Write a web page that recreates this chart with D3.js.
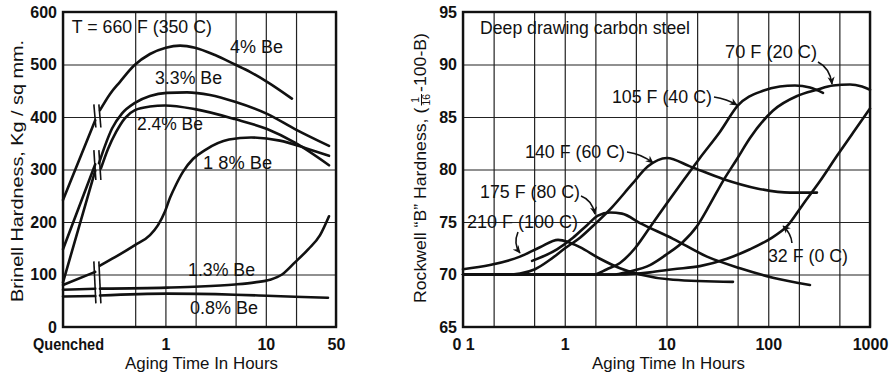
<!DOCTYPE html>
<html><head><meta charset="utf-8">
<script src="https://cdn.jsdelivr.net/npm/d3@7"></script>
<style>
body{margin:0;background:#fff}
svg text{font-family:"Liberation Sans",Arial,sans-serif;fill:#111}
</style>
</head><body>
<svg id="c" width="896" height="374"></svg>
<script>
// ---------------- DATA ----------------
// Left panel: Brinell hardness of Be-Cu alloys aged at 660 F
const QUENCHED = 0.0955;                 // position used for the "Quenched" state on the time axis
const quenchHours = [QUENCHED, 0.2];
const leftYTicks = [0,100,200,300,400,500,600];
const leftXGrid = [0.5,2,5,20];
const leftXTickVals = [QUENCHED,1,10,50];
const leftXTickLabels = ["Quenched","1","10","50"];

const be4Quench  = [242,394];
const be4Hours   = [0.223,0.281,0.353,0.487,0.702,1.01,1.40,1.97,3.12,4.93,6.96,10.3,18.2];
const be4Values  = [413,444,467,498,520,532,536,532,518,500,486,467,435];

const be33Quench = [148,310];
const be33Hours  = [0.218,0.250,0.294,0.370,0.497,0.702,1.034,1.64,2.78,4.93,10.3,19.5,42.6];
const be33Values = [312,345,378,407,427,440,446,447,442,429,406,377,345];

const be24Quench = [85,298];
const be24Hours  = [0.228,0.268,0.322,0.396,0.497,0.702,0.990,1.97,4.93,10.3,19.5,42.6];
const be24Values = [302,339,371,398,413,420,422,415,396,377,351,308];

const be18Quench = [80,105];
const be18Hours  = [0.223,0.315,0.497,0.702,0.844,0.990,1.111,1.275,1.50,1.88,2.48,4.30,7.12,13.8,24.6,42.6];
const be18Values = [117,133,156,175,194,220,246,271,296,320,337,357,361,355,341,326];

const be13Quench = [71,73];
const be13Hours  = [0.223,1.034,2.21,4.93,7.80,11.0,14.5,19.5,26.4,34.7,42.6];
const be13Values = [73,75,77,81,85,90,100,123,148,175,211];

const be08Quench = [58,59];
const be08Hours  = [0.223,1.034,4.93,10.3,19.5,41.6];
const be08Values = [60,63.5,61.5,59.6,57.7,55.8];

const leftLabels      = ["T = 660 F (350 C)","4% Be","3.3% Be","2.4% Be","1 8% Be","1.3% Be","0.8% Be"];
const leftLabelHours  = [0.117,4.40,0.788,0.521,2.37,1.68,1.76];
const leftLabelValues = [560,522,463,375,301,97,25];
const breakHours = 0.21;
const breakRanges = [[380,424],[280,337],[45,125]];

// Right panel: Rockwell B hardness of deep drawing carbon steel
const rightYTicks = [65,70,75,80,85,90,95];
const rightXGrid = [0.2,0.5,2,5,20,50,200,500];
const rightXTickVals = [0.1,1,10,100,1000];
const rightXTickLabels = ["0 1","1","10","100","1000"];

const t210Hours = [0.1,0.184,0.363,0.571,0.859,1.08,1.41,2.22,3.49,5.49,11.6,45];
const t210Values = [70.5,70.9,71.7,72.6,73.3,73.1,72.6,71.5,70.6,70.0,69.5,69.3];
const t175Hours = [0.477,0.839,1.205,1.654,2.12,2.78,3.65,5.49,11.6,25.0,52.8,111,257];
const t175Values = [71.3,72.4,73.5,74.7,75.6,75.9,75.8,74.9,73.4,71.7,70.6,69.7,69.0];
const t140Hours = [0.1,0.259,0.363,0.510,0.716,1.006,1.412,1.98,2.91,4.58,6.58,10.1,17.0,35.9,77.5,164,301];
const t140Values = [70,70,70.1,70.5,71.4,72.5,73.5,74.8,76.4,78.6,80.3,81.1,80.3,79.1,78.2,77.8,77.8];
const t105Hours = [0.1,1.94,2.60,3.49,4.90,6.88,10.3,14.5,21.3,33.6,50.4,88.8,130,183,257,345];
const t105Values = [70,70,70.5,71.1,72.5,74.5,76.9,78.9,81.1,83.6,86.1,87.5,87.9,88.0,87.8,87.3];
const t70Hours = [0.1,2.91,4.38,6.88,10.3,14.5,19.9,26.8,35.9,49.3,66.2,111,192,301,433,636,834,1000];
const t70Values = [70,70,70.3,70.9,72.0,73.1,74.6,76.7,78.9,81.0,83.0,85.6,87.0,87.6,88.0,88.1,87.9,87.6];
const t32Hours = [0.1,3.49,6.88,11.6,21.3,39.3,66.2,104,153,220,323,474,681,1000];
const t32Values = [70,70,70.2,70.5,70.8,71.5,72.4,73.4,74.6,76.7,78.9,81.3,83.5,85.8];

const rightLabels      = ["Deep drawing carbon steel","70 F (20 C)","105 F (40 C)","140 F (60 C)","175 F (80 C)","210 F (100 C)","32 F (0 C)"];
const rightLabelHours  = [0.147,37.6,2.91,0.407,0.147,0.1095,99.4];
const rightLabelValues = [92.9,90.6,86.3,81.1,77.3,74.4,71.2];
// arrows: [start, control, end] as [hours, value]
const rightArrows = [
  [[308,90.24],[404,89.67],[423,88.14]],
  [[29.3,86.9],[39.3,86.7],[49.3,86.14]],
  [[4.09,81.67],[5.74,81.48],[7.37,80.62]],
  [[1.444,77.48],[1.853,77.1],[1.983,75.76]],
  [[0.347,74.05],[0.31,72.9],[0.363,72.05]],
  [[171,73.0],[168,73.9],[140,74.62]]
];

// ---------------- DRAWING ----------------
const svg = d3.select("#c");
const xL = d3.scaleLog().domain([QUENCHED,50]).range([63,336]);
const yL = d3.scaleLinear().domain([0,600]).range([327,12]);
const xR = d3.scaleLog().domain([0.1,1000]).range([463,870]);
const yR = d3.scaleLinear().domain([65,95]).range([327,12]);

svg.append("defs").append("marker").attr("id","ah").attr("viewBox","0 0 10 10")
  .attr("refX",9).attr("refY",5).attr("markerWidth",8).attr("markerHeight",8)
  .attr("markerUnits","userSpaceOnUse").attr("orient","auto")
  .append("path").attr("d","M0,0.5L10,5L0,9.5L3,5z").attr("fill","#111");

function styleAxis(g){
  g.select(".domain").remove();
  g.selectAll(".tick line").attr("stroke","#222").attr("stroke-width",1.2);
  g.selectAll(".tick text").attr("font-size",16).attr("font-weight","bold").attr("fill","#111");
}

function drawPanel(x, y, yTicks, xGrid, xTickVals, xTickLabels){
  const g = svg.append("g");
  const w = x.range()[1]-x.range()[0], h = y.range()[0]-y.range()[1];
  g.append("g").attr("transform",`translate(${x.range()[0]},0)`)
    .call(d3.axisLeft(y).tickValues(yTicks).tickSize(-w).tickPadding(6)).call(styleAxis);
  // unlabeled grid lines
  g.append("g").attr("transform",`translate(0,${y.range()[0]})`)
    .call(d3.axisBottom(x).tickValues(xGrid).tickFormat(()=> "").tickSize(-h)).call(styleAxis);
  // labeled ticks
  g.append("g").attr("transform",`translate(0,${y.range()[0]})`)
    .call(d3.axisBottom(x).tickValues(xTickVals).tickFormat((d,i)=>xTickLabels[i])
      .tickSize(-h).tickPadding(12)).call(styleAxis);
  g.append("rect").attr("x",x.range()[0]).attr("y",y.range()[1]).attr("width",w).attr("height",h)
    .attr("fill","none").attr("stroke","#111").attr("stroke-width",2.4);
  return g;
}

const gL = drawPanel(xL,yL,leftYTicks,leftXGrid,leftXTickVals,leftXTickLabels);
gL.selectAll(".tick text").filter(function(){return this.textContent==="Quenched";})
  .attr("textLength",71).attr("lengthAdjust","spacingAndGlyphs").attr("dx",5);
const gR = drawPanel(xR,yR,rightYTicks,rightXGrid,rightXTickVals,rightXTickLabels);

const curveStyle = s => s.attr("fill","none").attr("stroke","#111").attr("stroke-width",2.6)
  .attr("stroke-linecap","round").attr("stroke-linejoin","round");

// Left curves
const lineL = d3.line().x(d=>xL(d[0])).y(d=>yL(d[1])).curve(d3.curveMonotoneX);
const lineLq = d3.line().x(d=>xL(d[0])).y(d=>yL(d[1]));
const leftSeries = [
  [be4Quench,be4Hours,be4Values],[be33Quench,be33Hours,be33Values],[be24Quench,be24Hours,be24Values],
  [be18Quench,be18Hours,be18Values],[be13Quench,be13Hours,be13Values],[be08Quench,be08Hours,be08Values]
];
leftSeries.forEach(([q,hs,vs])=>{
  gL.append("path").attr("d",lineLq(quenchHours.map((h,i)=>[h,q[i]]))).call(curveStyle);
  gL.append("path").attr("d",lineL(hs.map((h,i)=>[h,vs[i]]))).call(curveStyle);
});
// break marks
breakRanges.forEach(([lo,hi])=>{
  [-2.5,2.5].forEach(off=>{
    gL.append("line").attr("x1",xL(breakHours)+off+1).attr("x2",xL(breakHours)+off-1)
      .attr("y1",yL(lo)).attr("y2",yL(hi)).attr("stroke","#111").attr("stroke-width",1.6);
  });
});

// Right curves
const lineR = d3.line().x(d=>xR(d[0])).y(d=>yR(d[1])).curve(d3.curveMonotoneX);
[[t210Hours,t210Values],[t175Hours,t175Values],[t140Hours,t140Values],
 [t105Hours,t105Values],[t70Hours,t70Values],[t32Hours,t32Values]].forEach(([hs,vs])=>{
  gR.append("path").attr("d",lineR(hs.map((h,i)=>[h,vs[i]]))).call(curveStyle);
});
rightArrows.forEach(a=>{
  const p=a.map(d=>[xR(d[0]),yR(d[1])]);
  gR.append("path").attr("d",`M${p[0]}Q${p[1]} ${p[2]}`).attr("fill","none")
    .attr("stroke","#111").attr("stroke-width",1.6).attr("marker-end","url(#ah)");
});

// Labels
const leftWidths = [140,53,67,66,69,67,68];
const rightWidths = [210,92,100,100,100,111,80];
function addLabel(g,x,y,s,len){
  g.append("text").attr("x",x).attr("y",y).attr("font-size",17.5)
    .attr("textLength",len).attr("lengthAdjust","spacingAndGlyphs").text(s);
}
leftLabels.forEach((s,i)=>addLabel(gL,xL(leftLabelHours[i]),yL(leftLabelValues[i]),s,leftWidths[i]));
rightLabels.forEach((s,i)=>addLabel(gR,xR(rightLabelHours[i]),yR(rightLabelValues[i]),s,rightWidths[i]));

// Axis titles
[[xL,"Aging Time In Hours"],[xR,"Aging Time In Hours"]].forEach(([x,s])=>{
  svg.append("text").attr("x",(x.range()[0]+x.range()[1])/2+2).attr("y",369).attr("text-anchor","middle")
    .attr("font-size",17).attr("textLength",153).attr("lengthAdjust","spacingAndGlyphs").text(s);
});
svg.append("text").attr("transform","translate(23,171) rotate(-90)").attr("text-anchor","middle")
  .attr("font-size",17).attr("textLength",262).attr("lengthAdjust","spacingAndGlyphs")
  .text("Brinell Hardness, Kg / sq  mm.");

// right y title with fraction
const gt = svg.append("g").attr("transform","translate(420,168) rotate(-90)");
const p1 = gt.append("text").attr("font-size",17).text("Rockwell “B” Hardness, (");
const fn = gt.append("text").attr("font-size",10).attr("text-anchor","middle").text("1");
const fd = gt.append("text").attr("font-size",10).attr("text-anchor","middle").text("16");
const p2 = gt.append("text").attr("font-size",17).text("-100-B)");
const w1=p1.node().getComputedTextLength(), wd=fd.node().getComputedTextLength(), w2=p2.node().getComputedTextLength();
const total = w1+wd+4+w2, k = 270/total, start=-total/2;
gt.attr("transform",`translate(420,168) rotate(-90) scale(${k},1)`);
p1.attr("x",start).attr("y",6);
const fx = start+w1+2+wd/2;
fn.attr("x",fx).attr("y",-1);
gt.append("line").attr("x1",fx-wd/2).attr("x2",fx+wd/2).attr("y1",1.5).attr("y2",1.5).attr("stroke","#111").attr("stroke-width",1);
fd.attr("x",fx).attr("y",10);
p2.attr("x",start+w1+wd+4).attr("y",6);
</script>
</body></html>
